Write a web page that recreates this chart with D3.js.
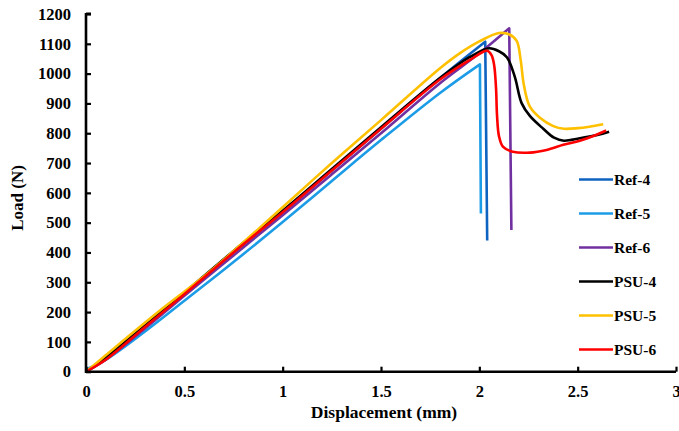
<!DOCTYPE html>
<html><head><meta charset="utf-8">
<script src="https://cdn.jsdelivr.net/npm/d3@7"></script>
<style>body{margin:0;background:#fff}svg{display:block}text{font-family:"Liberation Serif","Times New Roman",serif;font-weight:bold;fill:#000}</style>
</head><body><svg id="c" width="679" height="431"></svg>
<script>
const seriesNames = ["Ref-4","Ref-5","Ref-6","PSU-4","PSU-5","PSU-6"];
const seriesColors = ["#0E62C0","#1C9CE6","#7030A0","#000000","#FFC000","#FF0000"];
const xTicks = [0,0.5,1,1.5,2,2.5,3];
const yTicks = [0,100,200,300,400,500,600,700,800,900,1000,1100,1200];

const ref4 = [[0,0],[0.1,42],[0.3,150],[0.5,262],[0.75,400],[1,535],[1.25,675],[1.5,815],[1.8,985],[2.03,1107],[2.04,440]];
const ref5 = [[0,8],[0.1,40],[0.3,135],[0.5,238],[0.75,368],[1,502],[1.25,640],[1.5,777],[1.8,935],[2.003,1031],[2.008,531]];
const ref6 = [[0,0],[0.1,40],[0.3,145],[0.5,255],[0.75,390],[1,525],[1.25,662],[1.5,800],[1.8,968],[2.0,1068],[2.152,1152],[2.163,475]];
const psu4 = [[0,0],[0.1,47],[0.3,155],[0.5,265],[0.75,405],[1,540],[1.25,680],[1.5,820],[1.8,985],[1.95,1055],[2.05,1085],[2.1,1075],[2.14,1055],[2.18,990],[2.215,901],[2.257,858],[2.325,815],[2.38,785],[2.43,775],[2.51,783],[2.6,794],[2.66,805]];
const psu5 = [[0,0],[0.1,55],[0.376,205],[0.63,336],[1,552],[1.25,700],[1.5,844],[1.8,1018],[1.9,1068],[2.0,1108],[2.1,1136],[2.15,1132],[2.19,1110],[2.21,1046],[2.227,960],[2.257,889],[2.308,852],[2.376,824],[2.43,815],[2.5,817],[2.56,822],[2.63,830]];
const psu6 = [[0,0],[0.1,40],[0.3,150],[0.5,260],[0.75,400],[1,535],[1.25,675],[1.5,815],[1.8,980],[1.95,1045],[2.04,1077],[2.062,1062],[2.075,1030],[2.085,950],[2.09,860],[2.1,790],[2.12,755],[2.17,738],[2.257,735],[2.342,744],[2.427,761],[2.511,775],[2.58,791],[2.645,809]];
const seriesData = [ref4, ref5, ref6, psu4, psu5, psu6];

const svg = d3.select("#c");
const x = d3.scaleLinear().domain([0,3]).range([86,676]);
const y = d3.scaleLinear().domain([0,1200]).range([371.7,14]);

const lineSmooth = d3.line().x(d=>x(d[0])).y(d=>y(d[1])).curve(d3.curveCatmullRom.alpha(0.5));
seriesData.forEach((s,i)=>{
  let d;
  if (i<3) {
    const last = s[s.length-1];
    d = lineSmooth(s.slice(0,-1)) + "L" + x(last[0]) + "," + y(last[1]);
  } else d = lineSmooth(s);
  svg.append("path").attr("d", d)
    .attr("fill","none").attr("stroke",seriesColors[i]).attr("stroke-width",2.6)
    .attr("stroke-linejoin","round");
});

const xAxis = d3.axisBottom(x).tickValues(xTicks).tickSizeInner(-5).tickSizeOuter(0).tickPadding(14).tickFormat(d3.format("~g"));
const yAxis = d3.axisLeft(y).tickValues(yTicks).tickSizeInner(-5).tickSizeOuter(0).tickPadding(15).tickFormat(d3.format("d"));
const gx = svg.append("g").attr("transform","translate(0,"+y(0)+")").call(xAxis);
const gy = svg.append("g").attr("transform","translate("+x(0)+",0)").call(yAxis);
[gx,gy].forEach(g=>{
  g.attr("font-family",null);
  g.select(".domain").attr("stroke","#000").attr("stroke-width",2.6);
  g.selectAll(".tick line").attr("stroke","#000").attr("stroke-width",2.2);
  g.selectAll(".tick text").style("font-family","'Liberation Serif','Times New Roman',serif").style("font-weight","bold").style("font-size","16.5px").attr("fill","#000");
});
gx.select(".domain").attr("d","M"+(x(0)-1)+",0H"+x(3));
gy.select(".domain").attr("d","M0,"+(y(1200)-1)+"V"+(y(0)+1.3)+" M0,"+(y(1200)-0.2)+"h5");

svg.append("text").attr("x",384).attr("y",418).attr("text-anchor","middle").style("font-size","17.5px").text("Displacement (mm)");
svg.append("text").attr("transform","translate(23,198) rotate(-90)").attr("text-anchor","middle").style("font-size","17px").text("Load (N)");

const legendY = d3.scalePoint().domain(seriesNames).range([179.5,349.5]);
seriesNames.forEach((n,i)=>{
  const yy = legendY(n);
  svg.append("line").attr("x1",579).attr("x2",613).attr("y1",yy).attr("y2",yy).attr("stroke",seriesColors[i]).attr("stroke-width",2.6);
  svg.append("text").attr("x",614).attr("y",yy+5.5).style("font-size","15.5px").text(n);
});
</script></body></html>
